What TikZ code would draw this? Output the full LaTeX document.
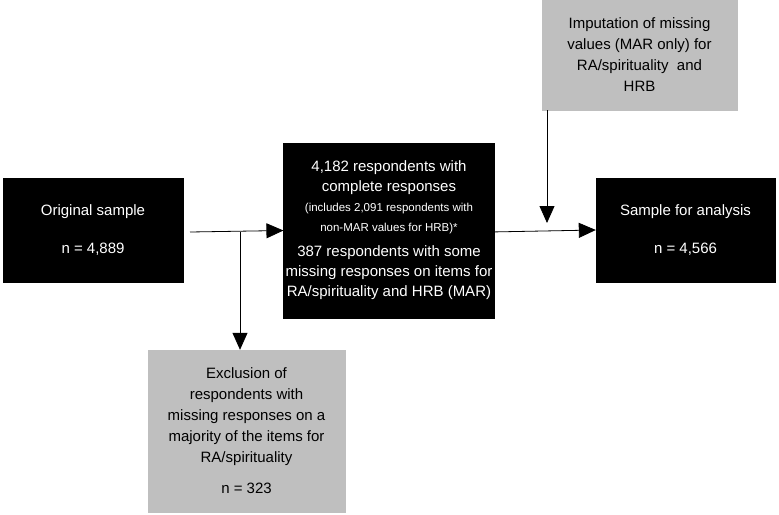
\documentclass[tikz,border=0pt]{standalone}
\usepackage{fontspec}
\setmainfont{Liberation Sans}
\usetikzlibrary{arrows.meta}
\begin{document}
\begin{tikzpicture}[x=1pt,y=-1pt,
  blk/.style={fill=black,text=white,draw=black,align=center,inner sep=2pt},
  gry/.style={fill=black!25,text=black,draw=black!25,align=center,inner sep=2pt},
  arr/.style={-{Triangle[length=17pt,width=15pt]},line width=0.8pt}]
\useasboundingbox (0,0) rectangle (779,514);
\node[blk,minimum width=180pt,minimum height=104pt,font=\fontsize{15}{38}\selectfont] (orig) at (93,230) {Original sample\\n = 4,889};
\node[blk,minimum width=192pt,minimum height=175pt,font=\fontsize{15}{20}\selectfont] (mid) at (389,230.5) {%
  4,182 respondents with\\complete responses\\
  \fontsize{11.5}{14}\selectfont (includes 2,091 respondents with\\
  \fontsize{11.5}{14}\selectfont non-MAR values for HRB)*\\[5pt]
  \fontsize{15}{21}\selectfont 387 respondents with some\\missing responses on items for\\RA/spirituality and HRB (MAR)};
\node[blk,minimum width=179pt,minimum height=104pt,font=\fontsize{15}{38}\selectfont] (res) at (685.5,230) {Sample for analysis\\n = 4,566};
\node[gry,minimum width=195pt,minimum height=110pt,font=\fontsize{15}{21}\selectfont] (imp) at (639.5,55) {Imputation of missing\\values (MAR only) for\\RA/spirituality\ \ and\\HRB};
\node[gry,minimum width=197pt,minimum height=162pt,font=\fontsize{15}{21}\selectfont] (exc) at (246.5,431) {Exclusion of\\respondents with\\missing responses on a\\majority of the items for\\RA/spirituality\\[10pt] n = 323};
\coordinate (a0) at (190,232);
\coordinate (br) at (240,232);
\coordinate (c0) at (547,110);
\coordinate (c1) at (547,223);
\draw[arr] (a0) -- (mid.west);
\draw[arr] (br) -- (exc.north -| br);
\coordinate (b0) at (490,232);
\draw[arr] (b0) -- (res.west);
\draw[arr] (c0) -- (c1);
\end{tikzpicture}
\end{document}
